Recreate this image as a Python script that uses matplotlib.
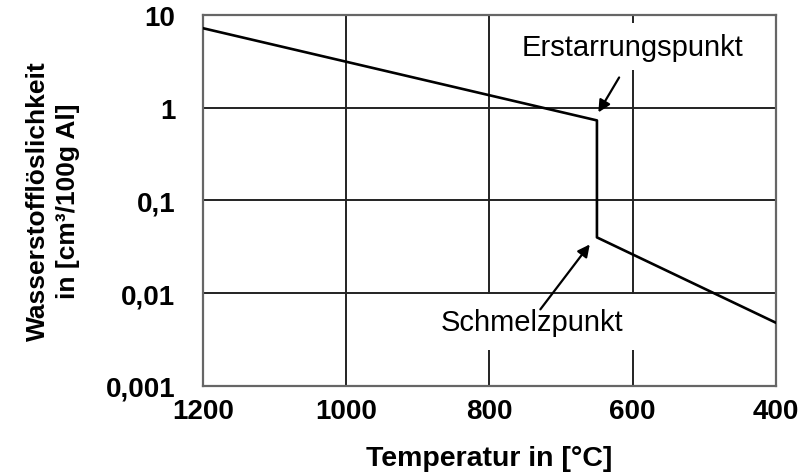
import matplotlib.pyplot as plt
from matplotlib.ticker import FixedLocator, FixedFormatter

plt.rcParams['font.family'] = ['Liberation Sans', 'DejaVu Sans']

# data
temperature = [1200, 650, 650, 400]
solubility = [7.2, 0.73, 0.040, 0.0048]

x_ticks = [1200, 1000, 800, 600, 400]
x_ticklabels = ['1200', '1000', '800', '600', '400']
y_ticks = [0.001, 0.01, 0.1, 1, 10]
y_ticklabels = ['0,001', '0,01', '0,1', '1', '10']

fig = plt.figure(figsize=(8.01, 4.77), dpi=100)
ax = fig.add_axes([0.2534, 0.1887, 0.7154, 0.7778])

ax.plot(temperature, solubility, color='black', lw=1.9, zorder=3)

ax.set_yscale('log')
ax.set_xlim(1200, 400)
ax.set_ylim(0.001, 10)

ax.xaxis.set_major_locator(FixedLocator(x_ticks))
ax.xaxis.set_major_formatter(FixedFormatter(x_ticklabels))
ax.yaxis.set_major_locator(FixedLocator(y_ticks))
ax.yaxis.set_major_formatter(FixedFormatter(y_ticklabels))
ax.yaxis.set_minor_locator(FixedLocator([]))

ax.tick_params(axis='both', length=0, labelsize=20)
ax.tick_params(axis='x', pad=9)
ax.tick_params(axis='y', pad=20)
for lab in ax.get_xticklabels() + ax.get_yticklabels():
    lab.set_fontweight('bold')

ax.grid(True, color='#222222', lw=1.4, zorder=1)
for sp in ax.spines.values():
    sp.set_color('#666666')
    sp.set_linewidth(1.6)

ax.set_xlabel('Temperatur in [°C]', fontsize=20.5, fontweight='bold')
ax.xaxis.set_label_coords(0.5, -0.158)
ax.set_ylabel('Wasserstofflöslichkeit\nin [cm³/100g Al]', fontsize=19,
              fontweight='bold', linespacing=1.3)
ax.yaxis.set_label_coords(-0.215, 0.5)

# annotations
ax.text(600, 4.57, 'Erstarrungspunkt', fontsize=21, ha='center', va='center',
        bbox=dict(facecolor='white', edgecolor='none', pad=7), zorder=4)
ax.annotate('', xy=(648, 0.89), xytext=(619, 2.12),
            arrowprops=dict(arrowstyle='-|>', color='black', lw=1.6,
                            mutation_scale=18, shrinkA=0, shrinkB=0), zorder=5)

ax.text(741, 0.00484, 'Schmelzpunkt', fontsize=21, ha='center', va='center',
        bbox=dict(facecolor='white', edgecolor='none', pad=10), zorder=4)
ax.annotate('', xy=(660, 0.0336), xytext=(729, 0.0067),
            arrowprops=dict(arrowstyle='-|>', color='black', lw=1.6,
                            mutation_scale=18, shrinkA=0, shrinkB=0), zorder=5)

fig.savefig('out.png', dpi=100)
